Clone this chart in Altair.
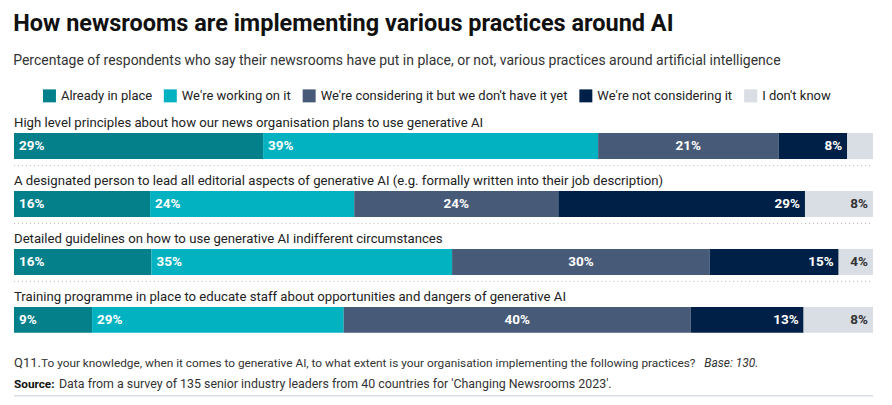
import altair as alt
import pandas as pd

questions = [
    "High level principles about how our news organisation plans to use generative AI",
    "A designated person to lead all editorial aspects of generative AI (e.g. formally written into their job description)",
    "Detailed guidelines on how to use generative AI indifferent circumstances",
    "Training programme in place to educate staff about opportunities and dangers of generative AI",
]
categories = [
    "Already in place",
    "We're working on it",
    "We're considering it but we don't have it yet",
    "We're not considering it",
    "I don't know",
]
colors = ["#04808b", "#03b2c0", "#475b79", "#012047", "#d9dde4"]

already = [29, 16, 16, 9]
working = [39, 24, 35, 29]
considering = [21, 24, 30, 40]
not_considering = [8, 29, 15, 13]
dont_know = [3, 8, 4, 8]

series = [already, working, considering, not_considering, dont_know]
rows = []
for qi, q in enumerate(questions):
    for ci, c in enumerate(categories):
        rows.append({"row": q, "cat": c, "order": ci, "value": series[ci][qi]})
df = pd.DataFrame(rows)
qdf = pd.DataFrame({"row": questions})
sep_df = pd.DataFrame({"row": questions[:-1]})

FONT = "Roboto"
W, H = 860, 224

yenc = alt.Y("row:N", sort=questions, axis=None,
             scale=alt.Scale(paddingInner=32 / 58, paddingOuter=0.207, align=1))

base = alt.Chart(df).transform_stack(
    stack="value", groupby=["row"], as_=["x0", "x1"],
    sort=[alt.SortField("order", order="ascending")], offset="normalize"
).transform_calculate(
    mid="(datum.x0 + datum.x1) / 2",
    label="datum.value + '%'",
)

xscale = alt.Scale(domain=[0, 1])

bars = base.mark_bar(height=26).encode(
    x=alt.X("x0:Q", scale=xscale, axis=None),
    x2="x1:Q",
    y=yenc,
    color=alt.Color("cat:N", sort=categories,
                    scale=alt.Scale(domain=categories, range=colors),
                    legend=alt.Legend(
                        title=None, orient="none", direction="horizontal",
                        legendX=29, legendY=-20,
                        symbolType="square", symbolSize=169, symbolStrokeWidth=0,
                        symbolOpacity=1,
                        labelFont=FONT, labelFontSize=13, labelColor="#222",
                        labelOffset=5, columnPadding=11, labelLimit=400,
                    )),
    order=alt.Order("order:Q"),
)

lbl_style = dict(font=FONT, fontSize=13.5, fontWeight="bold", baseline="middle")

left_lbl = base.transform_filter(alt.datum.order <= 1).mark_text(
    align="left", dx=5, color="white", **lbl_style
).encode(x=alt.X("x0:Q", scale=xscale), y=yenc, text="label:N")

mid_lbl = base.transform_filter(alt.datum.order == 2).mark_text(
    align="center", color="white", **lbl_style
).encode(x=alt.X("mid:Q", scale=xscale), y=yenc, text="label:N")

right_lbl = base.transform_filter(
    (alt.datum.order >= 3) & (alt.datum.value >= 4)
).mark_text(align="right", dx=-5, **lbl_style).encode(
    x=alt.X("x1:Q", scale=xscale), y=yenc, text="label:N",
    color=alt.condition(alt.datum.order == 4, alt.value("#333333"), alt.value("white")),
)

row_lbl = alt.Chart(qdf).mark_text(
    align="left", baseline="alphabetic", dy=-19, font=FONT, fontSize=13.2, color="#222"
).encode(x=alt.value(0), y=yenc, text="row:N")

seps = alt.Chart(sep_df).mark_rule(
    strokeDash=[1, 3], color="#bbbbbb", strokeWidth=1, yOffset=6.5
).encode(
    y=alt.Y("row:N", sort=questions, axis=None, bandPosition=1,
            scale=alt.Scale(paddingInner=32 / 58, paddingOuter=0.207, align=1)),
    x=alt.datum(0), x2=alt.datum(1),
)

def foot(text, x, y, color="#333", **kw):
    d = pd.DataFrame({"t": [text]})
    return alt.Chart(d).mark_text(align="left", baseline="alphabetic", font=FONT,
                                  color=color, **kw).encode(
        text="t:N", x=alt.value(x), y=alt.value(y))

f1 = foot("Q11.", 0, H + 34, fontSize=13)
f2 = foot("To your knowledge, when it comes to generative AI, to what extent is your organisation implementing the following practices?",
          27, H + 34, fontSize=11.85)
f3 = foot("Base: 130.", 691, H + 34, fontSize=12, fontStyle="italic")
f4 = foot("Source:", 0, H + 55, color="#111", fontSize=11.8, fontWeight="bold")
f5 = foot("Data from a survey of 135 senior industry leaders from 40 countries for 'Changing Newsrooms 2023'.",
          45, H + 55, fontSize=12.4)
bottom = alt.Chart(pd.DataFrame({"a": [0]})).mark_rule(color="#d9dde4", strokeWidth=1.5).encode(
    x=alt.value(0), x2=alt.value(W), y=alt.value(H + 63))

chart = alt.layer(
    bars, seps, left_lbl, mid_lbl, right_lbl, row_lbl, f1, f2, f3, f4, f5, bottom
).properties(
    width=W, height=H,
    title=alt.TitleParams(
        text="How newsrooms are implementing various practices around AI",
        subtitle="Percentage of respondents who say their newsrooms have put in place, or not, various practices around artificial intelligence",
        anchor="start", font=FONT, fontSize=23.5, fontWeight="bold", color="#111",
        subtitleFont=FONT, subtitleFontSize=14, subtitleColor="#333",
        subtitlePadding=19, offset=21,
    ),
    padding={"left": 5, "top": 3, "right": 10, "bottom": 0},
).configure_view(stroke=None)

chart.save("out.html", embed_options={"renderer": "svg", "actions": False})
